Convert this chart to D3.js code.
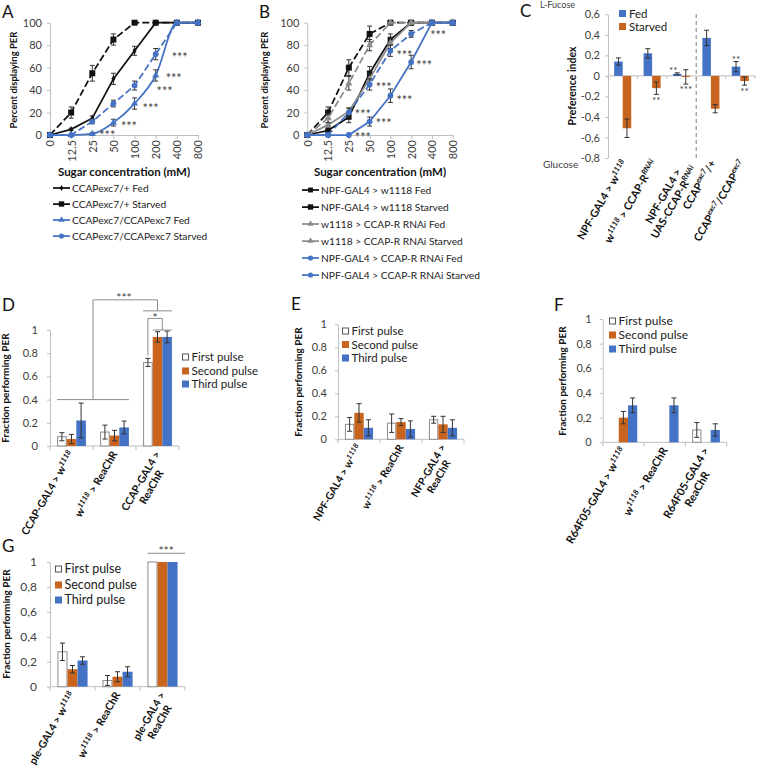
<!DOCTYPE html>
<html><head><meta charset="utf-8">
<script src="https://cdn.jsdelivr.net/npm/d3@7"></script>
<style>body{margin:0;background:#fff}svg{font-family:Lato,'Open Sans',sans-serif;background:#fff}</style>
</head><body>
<svg id="c" width="757" height="771"></svg>
<script>
// ---------------- DATA ----------------
const concentrations = ["0","12.5","25","50","100","200","400","800"];

// Panel A
const aSeriesNames = ["CCAPexc7/+ Fed","CCAPexc7/+ Starved","CCAPexc7/CCAPexc7 Fed","CCAPexc7/CCAPexc7 Starved"];
const aCtrlFed = [0,5,15,50,75,100,100,100];
const aCtrlFedErr = [0,1,2,5,4,0,0,0];
const aCtrlStarved = [0,20,55,85,100,100,100,100];
const aCtrlStarvedErr = [0,5,7,5,0,0,0,0];
const aMutFed = [0,0,1,11,28,53,100,100];
const aMutFedErr = [0,0,1,3,5,5,0,0];
const aMutStarved = [0,0,12,28,44,72,100,100];
const aMutStarvedErr = [0,0,2,3,4,5,0,0];
const aStars = [["25",2],["50",10],["100",26],["100",41],["200",53],["200",71]];

// Panel B
const bSeriesNames = ["NPF-GAL4 > w1118 Fed","NPF-GAL4 > w1118 Starved","w1118 > CCAP-R RNAi Fed","w1118 > CCAP-R RNAi Starved","NPF-GAL4 > CCAP-R RNAi Fed","NPF-GAL4 > CCAP-R RNAi Starved"];
const bNpfFed = [0,4,16,55,85,100,100,100];
const bNpfFedErr = [0,1,5,6,5,0,0,0];
const bNpfStarved = [0,20,60,90,100,100,100,100];
const bNpfStarvedErr = [0,5,7,7,0,0,0,0];
const bRnaiFed = [0,9,21,50,82,100,100,100];
const bRnaiFedErr = [0,2,3,5,5,0,0,0];
const bRnaiStarved = [0,15,46,80,100,100,100,100];
const bRnaiStarvedErr = [0,4,6,5,0,0,0,0];
const bKdFed = [0,0,0,12,35,65,100,100];
const bKdFedErr = [0,0,0,4,6,6,0,0];
const bKdStarved = [0,0,20,45,75,90,100,100];
const bKdStarvedErr = [0,0,4,5,5,3,0,0];
const bStars = [["25",0],["25",20.5],["50",12.5],["50",45],["100",33],["100",73],["200",64],["200",91]];

// Panel C
const cGroups = ["NPF-GAL4 > w^{1118}","w^{1118} > CCAP-R^{RNAi}","NPF-GAL4 >\nUAS-CCAP-R^{RNAi}","CCAP^{exc7}/+","CCAP^{exc7}/CCAP^{exc7}"];
const cConditions = ["Fed","Starved"];
const cFed = [0.14,0.22,0.02,0.37,0.09];
const cFedErr = [0.035,0.045,0.01,0.075,0.05];
const cStarved = [-0.51,-0.12,-0.01,-0.32,-0.05];
const cStarvedErr = [0.09,0.06,0.07,0.04,0.04];
const cYTicks = [-0.8,-0.6,-0.4,-0.2,0,0.2,0.4,0.6];

// Panels D-G
const pulseNames = ["First pulse","Second pulse","Third pulse"];
const fracTicks = [0,0.2,0.4,0.6,0.8,1];

const dGroups = ["CCAP-GAL4 > w^{1118}","w^{1118} > ReaChR","CCAP-GAL4 >\nReaChR"];
const dFirst = [0.08,0.12,0.72];
const dFirstErr = [0.035,0.06,0.035];
const dSecond = [0.06,0.09,0.94];
const dSecondErr = [0.04,0.045,0.045];
const dThird = [0.22,0.16,0.94];
const dThirdErr = [0.15,0.055,0.05];

const eGroups = ["NPF-GAL4 > w^{1118}","w^{1118} > ReaChR","NFP-GAL4 >\nReaChR"];
const eFirst = [0.13,0.14,0.17];
const eFirstErr = [0.06,0.08,0.03];
const eSecond = [0.23,0.15,0.13];
const eSecondErr = [0.08,0.03,0.07];
const eThird = [0.10,0.09,0.10];
const eThirdErr = [0.07,0.07,0.07];

const fGroups = ["R64F05-GAL4 > w^{1118}","w^{1118} > ReaChR","R64F05-GAL4 >\nReaChR"];
const fFirst = [0,0,0.10];
const fFirstErr = [0,0,0.06];
const fSecond = [0.20,0,0];
const fSecondErr = [0.05,0,0];
const fThird = [0.30,0.30,0.10];
const fThirdErr = [0.06,0.06,0.05];

const gGroups = ["ple-GAL4 > w^{1118}","w^{1118} > ReaChR","ple-GAL4 >\nReaChR"];
const gFirst = [0.28,0.05,1.0];
const gFirstErr = [0.07,0.04,0];
const gSecond = [0.14,0.08,1.0];
const gSecondErr = [0.03,0.04,0];
const gThird = [0.21,0.12,1.0];
const gThirdErr = [0.03,0.04,0];

// ---------------- DRAWING ----------------
const svg = d3.select("#c");
const FONT = "Lato,'Open Sans',sans-serif";
const AX = "#bfbfbf", TXT = "#404040", ERR = "#333";
const BLUE = "#4472C4", ORANGE = "#C8641E", GREY = "#8c8c8c";

function styleAxis(sel, fs){
  sel.attr("font-family", null).attr("font-size", null);
  sel.select(".domain").attr("stroke", AX);
  sel.selectAll(".tick line").attr("stroke", AX);
  sel.selectAll(".tick text").attr("fill", TXT).attr("font-size", fs).attr("font-family", FONT);
}
function label(t,x,y){ svg.append("text").attr("x",x).attr("y",y).attr("font-size",17).attr("fill","#111").text(t); }
function yTitle(t,x,cy,fs){
  svg.append("text").attr("transform",`translate(${x},${cy}) rotate(-90)`).attr("text-anchor","middle")
    .attr("font-size",fs).attr("font-weight","bold").attr("fill","#111").text(t);
}
function stars(t,x,yc,fs){
  svg.append("text").attr("x",x).attr("y",yc+0.57*fs).attr("text-anchor","middle").attr("font-size",fs).attr("fill",TXT).text(t);
}
function appendRich(text, str, fs){
  const parts = str.split(/\^\{([^}]*)\}/);
  const sh = 0.38*fs; let prevSup=false;
  parts.forEach((p,i)=>{
    if(i%2===0){ if(!p) return; const ts=text.append("tspan").text(p); if(prevSup) ts.attr("dy",sh); prevSup=false; }
    else { text.append("tspan").attr("font-size",fs*0.7).attr("font-style","italic").attr("dy",-sh).text(p); prevSup=true; }
  });
}
function rotLabel(str,x,y,fs,angle){
  const g = svg.append("g").attr("transform",`translate(${x},${y}) rotate(${angle})`);
  const lines = str.split("\n"), lh = fs*1.15;
  const texts = lines.map((ln,i)=>{ const t=g.append("text").attr("font-size",fs).attr("font-weight","bold").attr("fill","#111")
      .attr("y",i*lh).attr("dy","0.35em"); appendRich(t,ln,fs); return t; });
  const w = texts.map(t=>t.node().getComputedTextLength()); const mw=d3.max(w);
  texts.forEach((t,i)=>t.attr("x",-mw/2-w[i]/2));
}
function errBar(g,x,y1,y2,cap){
  g.append("line").attr("x1",x).attr("x2",x).attr("y1",y1).attr("y2",y2).attr("stroke",ERR).attr("stroke-width",1);
  [y1,y2].forEach(yy=>g.append("line").attr("x1",x-cap).attr("x2",x+cap).attr("y1",yy).attr("y2",yy).attr("stroke",ERR).attr("stroke-width",1));
}

// ---------- line charts ----------
function lineChart(o){
  const x = d3.scalePoint().domain(concentrations).range([o.x0,o.x1]);
  const y = d3.scaleLinear().domain([0,100]).range([o.yBot,o.yTop]);
  const g = svg.append("g");
  g.append("g").attr("transform",`translate(${o.x0},0)`)
    .call(d3.axisLeft(y).tickValues([0,20,40,60,80,100]).tickSize(3).tickSizeOuter(0).tickPadding(5)).call(s=>styleAxis(s,11));
  const xa = g.append("g").attr("transform",`translate(0,${o.yBot})`)
    .call(d3.axisBottom(x).tickSize(4).tickSizeOuter(0)).call(s=>styleAxis(s,11));
  xa.selectAll(".tick text").attr("transform","rotate(-90)").attr("x",-5).attr("y",0).attr("dy","0.35em").attr("text-anchor","end");
  o.series.forEach(s=>{
    const pts = s.values.map((v,i)=>({c:concentrations[i],v,e:s.err[i]}));
    g.append("path").datum(pts).attr("d",d3.line().x(p=>x(p.c)).y(p=>y(p.v)).curve(s.curve||d3.curveLinear))
      .attr("fill","none").attr("stroke",s.color).attr("stroke-width",1.75).attr("stroke-dasharray",s.dash?"7,3":null);
    pts.filter(p=>p.e>0).forEach(p=>errBar(g,x(p.c),y(p.v-p.e),y(p.v+p.e),2.5));
    g.selectAll(null).data(pts).join("path").attr("transform",p=>`translate(${x(p.c)},${y(p.v)})`)
      .attr("d",d3.symbol(s.symbol,s.size)).attr("fill",s.color);
  });
  svg.append("text").attr("x",o.titleX).attr("y",176).attr("text-anchor","middle").attr("font-size",11.5).attr("font-weight","bold").attr("fill","#111").text("Sugar concentration (mM)");
  o.series.forEach((s,i)=>{
    const yy = o.legY[i];
    g.append("line").attr("x1",o.legX).attr("x2",o.legX+17).attr("y1",yy).attr("y2",yy).attr("stroke",s.color).attr("stroke-width",1.75).attr("stroke-dasharray",s.dash?"7,3":null);
    g.append("path").attr("transform",`translate(${o.legX+8.5},${yy})`).attr("d",d3.symbol(s.symbol,s.size*0.8)).attr("fill",s.color);
    g.append("text").attr("x",o.legX+19).attr("y",yy).attr("dy","0.35em").attr("font-size",10.2).attr("fill","#222").text(s.name);
  });
  o.stars.forEach((st,i)=>stars("***",x(st[0])+o.starDx[i],y(st[1]),12.5));
  return {x,y};
}

label("A",2,18);
yTitle("Percent displaying PER",17,80,9.5);
lineChart({x0:50,x1:198,yTop:22.7,yBot:135,titleX:124,legX:53,legY:[188,204,220,236],
  series:[
    {name:aSeriesNames[0],values:aCtrlFed,err:aCtrlFedErr,color:"#111",symbol:d3.symbolDiamond,size:14},
    {name:aSeriesNames[1],values:aCtrlStarved,err:aCtrlStarvedErr,color:"#111",symbol:d3.symbolSquare,size:36,dash:true},
    {name:aSeriesNames[2],values:aMutFed,err:aMutFedErr,color:BLUE,symbol:d3.symbolTriangle,size:22,curve:d3.curveMonotoneX},
    {name:aSeriesNames[3],values:aMutStarved,err:aMutStarvedErr,color:BLUE,symbol:d3.symbolCircle,size:26,dash:true}
  ],
  stars:aStars,starDx:[15,15.5,16,30,18,24]});

label("B",259,18);
yTitle("Percent displaying PER",268,80,9.5);
lineChart({x0:307.3,x1:452.7,yTop:22.7,yBot:135,titleX:380,legX:302,legY:[190,207,224,241,258,275],
  series:[
    {name:bSeriesNames[0],values:bNpfFed,err:bNpfFedErr,color:"#111",symbol:d3.symbolSquare,size:30},
    {name:bSeriesNames[1],values:bNpfStarved,err:bNpfStarvedErr,color:"#111",symbol:d3.symbolSquare,size:36,dash:true},
    {name:bSeriesNames[2],values:bRnaiFed,err:bRnaiFedErr,color:"#8c8c8c",symbol:d3.symbolTriangle,size:22},
    {name:bSeriesNames[3],values:bRnaiStarved,err:bRnaiStarvedErr,color:"#8c8c8c",symbol:d3.symbolTriangle,size:22,dash:true},
    {name:bSeriesNames[4],values:bKdFed,err:bKdFedErr,color:BLUE,symbol:d3.symbolCircle,size:26},
    {name:bSeriesNames[5],values:bKdStarved,err:bKdStarvedErr,color:BLUE,symbol:d3.symbolCircle,size:26,dash:true}
  ],
  stars:bStars,starDx:[14,14,14,14,14,14,13,27]});

// ---------- panel C ----------
(function(){
  label("C",520,17);
  const y = d3.scaleLinear().domain([-0.8,0.6]).range([158,14.3]);
  const xb = d3.scaleBand().domain(cGroups).range([608,755]).paddingInner(0.42).paddingOuter(0.21);
  const xi = d3.scaleBand().domain(cConditions).range([0,xb.bandwidth()]);
  const g = svg.append("g");
  const fmt = v=> v===0?"0":d3.format(".1f")(v).replace(".",",").replace("\u2212","-");
  g.append("g").attr("transform","translate(608,0)")
    .call(d3.axisLeft(y).tickValues(cYTicks).tickFormat(fmt).tickSize(3).tickSizeOuter(0).tickPadding(5)).call(s=>styleAxis(s,11));
  const y0 = y(0);
  g.append("line").attr("x1",608).attr("x2",755).attr("y1",y0).attr("y2",y0).attr("stroke",AX);
  d3.range(cGroups.length+1).forEach(i=>{ const xx=608+i*xb.step();
    g.append("line").attr("x1",xx).attr("x2",xx).attr("y1",y0).attr("y2",y0+3).attr("stroke",AX); });
  const xd = 608+3*xb.step();
  g.append("line").attr("x1",xd).attr("x2",xd).attr("y1",14).attr("y2",158).attr("stroke","#7f7f7f").attr("stroke-dasharray","4,3");
  const series=[{n:"Fed",v:cFed,e:cFedErr,c:BLUE},{n:"Starved",v:cStarved,e:cStarvedErr,c:ORANGE}];
  series.forEach(s=>s.v.forEach((v,i)=>{
    const xx = xb(cGroups[i])+xi(s.n);
    g.append("rect").attr("x",xx).attr("width",xi.bandwidth()).attr("y",Math.min(y(v),y0)).attr("height",Math.abs(y(v)-y0)).attr("fill",s.c);
    errBar(g,xx+xi.bandwidth()/2,y(v-s.e[i]),y(v+s.e[i]),2.5);
  }));
  series.forEach((s,i)=>{
    g.append("rect").attr("x",619).attr("y",10+i*13).attr("width",7).attr("height",7).attr("fill",s.c);
    g.append("text").attr("x",629).attr("y",13.5+i*13).attr("dy","0.35em").attr("font-size",11.5).attr("fill","#222").text(s.n);
  });
  svg.append("text").attr("x",540).attr("y",8).attr("font-size",9).attr("fill",TXT).text("L-Fucose");
  svg.append("text").attr("x",543).attr("y",168).attr("font-size",10).attr("fill",TXT).text("Glucose");
  yTitle("Preference index",576,86,10.5);
  const cx = (i,n)=>xb(cGroups[i])+xi(n)+xi.bandwidth()/2;
  stars("**",cx(2,"Fed")-4,y(0.07),10);
  stars("***",cx(2,"Starved"),y(-0.11),10);
  stars("**",cx(1,"Starved"),y(-0.22),10);
  stars("**",cx(4,"Fed"),y(0.18),10);
  stars("**",cx(4,"Starved"),y(-0.13),10);
  cGroups.forEach(gr=>rotLabel(gr,xb(gr)+xb.bandwidth()/2+2,161,10.8,-60));
})();

// ---------- bar charts D-G ----------
function barChart(o){
  const y = d3.scaleLinear().domain([0,1]).range([o.yBot,o.yTop]);
  const xb = d3.scaleBand().domain(o.groups).range([o.x0,o.x1]).paddingInner(o.pad).paddingOuter(o.pad/2);
  const xi = d3.scaleBand().domain(pulseNames).range([0,xb.bandwidth()]);
  const g = svg.append("g");
  const fmt = v=> v===0?"0":v===1?"1":(o.comma?d3.format(".1f")(v).replace(".",","):d3.format(".1f")(v));
  g.append("g").attr("transform",`translate(${o.x0},0)`)
    .call(d3.axisLeft(y).tickValues(fracTicks).tickFormat(fmt).tickSize(3).tickSizeOuter(0).tickPadding(o.tp)).call(s=>styleAxis(s,o.fs));
  g.append("line").attr("x1",o.x0).attr("x2",o.x1).attr("y1",o.yBot).attr("y2",o.yBot).attr("stroke",AX);
  d3.range(o.groups.length+1).forEach(i=>{ const xx=o.x0+i*xb.step();
    g.append("line").attr("x1",xx).attr("x2",xx).attr("y1",o.yBot).attr("y2",o.yBot+4).attr("stroke",AX); });
  const cols = ["#fff",ORANGE,BLUE];
  o.series.forEach((s,si)=>s.v.forEach((v,i)=>{
    if(v<=0) return;
    const xx = xb(o.groups[i])+xi(pulseNames[si]);
    const r = g.append("rect").attr("x",xx).attr("width",xi.bandwidth()).attr("y",y(v)).attr("height",o.yBot-y(v)).attr("fill",cols[si]);
    if(si===0) r.attr("x",xx+0.5).attr("width",xi.bandwidth()-1).attr("stroke",GREY).attr("stroke-width",1);
  }));
  o.series.forEach((s,si)=>s.v.forEach((v,i)=>{
    if(!(s.e[i]>0)) return;
    const xx = xb(o.groups[i])+xi(pulseNames[si])+xi.bandwidth()/2;
    errBar(g,xx,y(v-s.e[i]),y(v+s.e[i]),2.5);
  }));
  pulseNames.forEach((n,i)=>{
    const yy=o.legY[i];
    const r=g.append("rect").attr("x",o.legX).attr("y",yy-3.5).attr("width",7).attr("height",7).attr("fill",cols[i]);
    if(i===0) r.attr("x",o.legX+0.5).attr("y",yy-3).attr("width",6).attr("height",6).attr("stroke","#555");
    g.append("text").attr("x",o.legX+9.5).attr("y",yy).attr("dy","0.35em").attr("font-size",o.lfs).attr("fill","#222").text(n);
  });
  o.groups.forEach(gr=>rotLabel(gr,xb(gr)+xb.bandwidth()/2,o.yBot+6,o.xfs,-60));
  return {y,xb,xi};
}

label("D",2,311);
yTitle("Fraction performing PER",9,388,10);
const D = barChart({x0:50,x1:179,yTop:330,yBot:446,pad:0.33,tp:9,fs:11,comma:false,groups:dGroups,xfs:10.6,
  series:[{v:dFirst,e:dFirstErr},{v:dSecond,e:dSecondErr},{v:dThird,e:dThirdErr}],legX:182,legY:[357,371,384],lfs:11.5});
(function(){
  const {y,xb,xi}=D, g3=dGroups[2], bw=xb.bandwidth(), ib=xi.bandwidth();
  const line=d3.line();
  const p = [
    [[xb(dGroups[0]),y(0.4)],[xb(dGroups[1])+bw,y(0.4)]],
    [[50+xb.step(),y(0.4)],[50+xb.step(),y(1.26)],[xb(g3)+bw/2,y(1.26)],[xb(g3)+bw/2,y(1.165)]],
    [[xb(g3),y(1.165)],[xb(g3)+bw,y(1.165)]],
    [[xb(g3)+ib/2,y(0.78)],[xb(g3)+ib/2,y(1.10)],[xb(g3)+ib*2,y(1.10)],[xb(g3)+ib*2,y(1.0)]],
    [[xb(g3)+ib,y(1.0)],[xb(g3)+bw,y(1.0)]]
  ];
  p.forEach(d=>svg.append("path").attr("d",line(d)).attr("fill","none").attr("stroke","#8c8c8c").attr("stroke-width",1));
  stars("***",124,295,12);
  stars("*",xb(g3)+ib*1.25,315,12);
})();

label("E",291,310);
yTitle("Fraction performing PER",302,382,10);
barChart({x0:338,x1:464,yTop:324.3,yBot:439.3,pad:0.33,tp:8,fs:11,comma:false,groups:eGroups,xfs:10.4,
  series:[{v:eFirst,e:eFirstErr},{v:eSecond,e:eSecondErr},{v:eThird,e:eThirdErr}],legX:342,legY:[331,344.5,358],lfs:11.5});

label("F",554,311);
yTitle("Fraction performing PER",566,381,10);
barChart({x0:602.7,x1:726.7,yTop:319,yBot:442.3,pad:0.33,tp:8,fs:11,comma:true,groups:fGroups,xfs:11,
  series:[{v:fFirst,e:fFirstErr},{v:fSecond,e:fSecondErr},{v:fThird,e:fThirdErr}],legX:609,legY:[321,335,349],lfs:12});

label("G",2,552);
yTitle("Fraction performing PER",10,624,10);
const G = barChart({x0:50,x1:185,yTop:562,yBot:686.7,pad:0.33,tp:10,fs:12,comma:true,groups:gGroups,xfs:10.6,
  series:[{v:gFirst,e:gFirstErr},{v:gSecond,e:gSecondErr},{v:gThird,e:gThirdErr}],legX:55,legY:[569,585,600],lfs:12.5});
(function(){
  const {y,xb}=G, g3=gGroups[2];
  svg.append("line").attr("x1",xb(g3)).attr("x2",xb(g3)+xb.bandwidth()*1.25).attr("y1",y(1.07)).attr("y2",y(1.07)).attr("stroke","#8c8c8c");
  stars("***",xb(g3)+xb.bandwidth()*0.62,548,12);
})();
</script>
</body></html>
